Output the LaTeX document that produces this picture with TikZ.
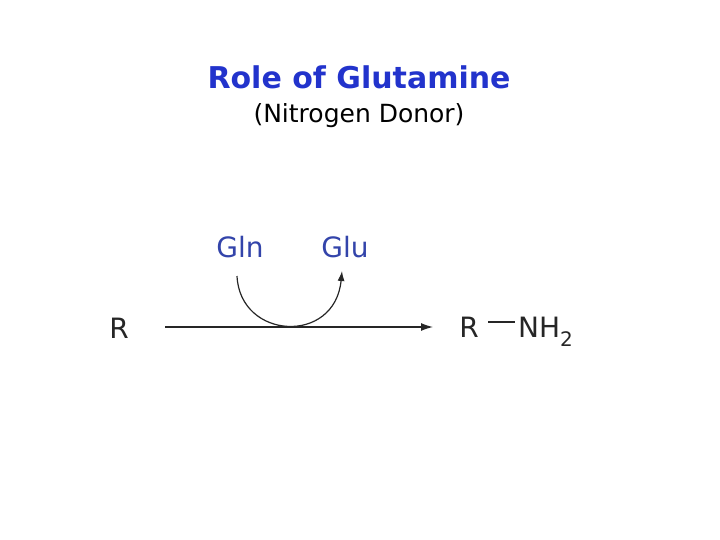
\documentclass[tikz,border=0pt]{standalone}
\usepackage{fontspec}
\setmainfont{DejaVu Sans}
\usetikzlibrary{arrows.meta}
\definecolor{ttl}{HTML}{2233CC}
\definecolor{lbl}{HTML}{3344AA}
\begin{document}
\begin{tikzpicture}[x=1pt,y=-1pt,
  txt/.style={inner sep=0pt,anchor=center},
  ln/.style={line width=1.2pt,black!85}]
\useasboundingbox (0,0) rectangle (720,540);
\node[txt,text=ttl] (t) at (359,77) {\fontsize{30}{34}\selectfont\bfseries Role of Glutamine};
\node[txt] (s) at (359,116) {\fontsize{25}{28}\selectfont (Nitrogen Donor)};
\node[txt,text=lbl] (gln) at (240,247) {\fontsize{28}{32}\selectfont Gln};
\node[txt,text=lbl] (glu) at (345,247) {\fontsize{28}{32}\selectfont Glu};
\node[txt,text=black!85] (r1) at (119,328) {\fontsize{28}{32}\selectfont R};
\node[txt,text=black!85] (r2) at (469,327) {\fontsize{28}{32}\selectfont R};
\node[txt,text=black!85,anchor=base west] (nh) at (518,337) {\fontsize{28}{32}\selectfont NH\raisebox{-0.35em}{\fontsize{20}{22}\selectfont 2}};
\coordinate (a1) at (165,327);
\coordinate (a2) at (433,327);
\draw[ln,-{Latex[length=12pt,width=8pt]}] (a1) -- (a2);
\coordinate (b1) at (488,322);
\coordinate (b2) at (515,322);
\draw[ln] (b1) -- (b2);
\coordinate (c1) at (237,276);
\coordinate (c2) at (342,271);
\draw[ln,-{Latex[length=10pt,width=7pt]}] (c1) .. controls (240,340) and (335,345) .. (c2);
\end{tikzpicture}
\end{document}
